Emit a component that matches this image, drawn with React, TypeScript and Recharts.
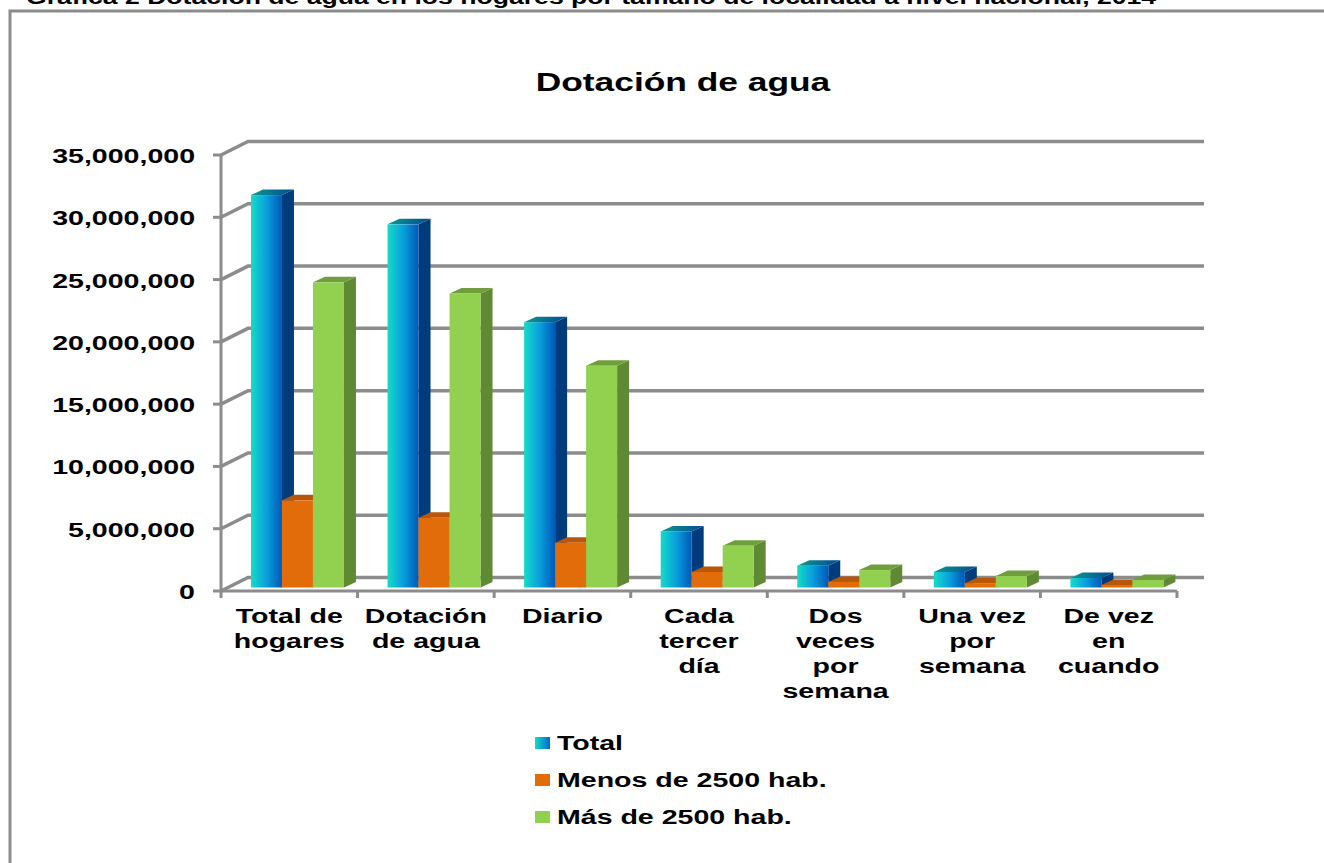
import React from "react";
import { BarChart, Bar, XAxis, YAxis, CartesianGrid, Legend } from "recharts";

const categories = ["Total de hogares", "Dotación de agua", "Diario", "Cada tercer día", "Dos veces por semana", "Una vez por semana", "De vez en cuando"];
const tickLines = [["Total de", "hogares"], ["Dotación", "de agua"], ["Diario"], ["Cada", "tercer", "día"], ["Dos", "veces", "por", "semana"], ["Una vez", "por", "semana"], ["De vez", "en", "cuando"]];
const total = [31500000, 29150000, 21300000, 4500000, 1750000, 1250000, 760000];
const menos = [7000000, 5600000, 3600000, 1250000, 450000, 350000, 200000];
const mas = [24500000, 23600000, 17800000, 3350000, 1400000, 920000, 600000];
const yTicks = [0, 5000000, 10000000, 15000000, 20000000, 25000000, 30000000, 35000000];
const seriesNames = ["Total", "Menos de 2500 hab.", "Más de 2500 hab."];

const data = categories.map((c, i) => ({ c, total: total[i], menos: menos[i], mas: mas[i] }));

const GRAY = "#8c8c8c";
const DX = 27, DY = -13.5;
const BDX = 12, BDY = -5.5;
const LIFT = 3.5;
const SHIFT = 7.7;
const STRETCH = 1.36;
const FONT = "'Liberation Sans', Arial, sans-serif";

const Stretched = ({ x, y, size, anchor = "start", sx = STRETCH, children }: any) => (
  <text transform={`translate(${x},${y}) scale(${sx},1)`} fontFamily={FONT} fontWeight="bold" fontSize={size} textAnchor={anchor} fill="#000">{children}</text>
);

const make3D = (front: string, top: string, side: string) => (p: any) => {
  const { y, width, height } = p;
  const x = p.x + SHIFT;
  const b = y + height;
  const t = Math.min(y, b - 1);
  const r = x + width;
  return (
    <g transform={`translate(0,${-LIFT})`}>
      <polygon points={`${r},${t} ${r + BDX},${t + BDY} ${r + BDX},${b + BDY} ${r},${b}`} fill={side} />
      <polygon points={`${x},${t} ${x + BDX},${t + BDY} ${r + BDX},${t + BDY} ${r},${t}`} fill={top} />
      <rect x={x} y={t} width={width} height={b - t} fill={front} />
    </g>
  );
};

const shapeTotal = make3D("url(#gTotal)", "url(#gTotalTop)", "#003b7c");
const shapeMenos = make3D("#e36c0a", "#b85708", "#b85708");
const shapeMas = make3D("#92d050", "#6f9f3c", "#5f8a33");

const GridLine = (p: any) => {
  const { x1, x2, y1 } = p;
  return <polyline points={`${x1},${y1} ${x1 + DX},${y1 + DY} ${x2 + DX},${y1 + DY}`} fill="none" stroke={GRAY} strokeWidth={3.5} />;
};

const YTick = ({ x, y, payload }: any) => (
  <g>
    <line x1={x - 8} x2={x + 1} y1={y} y2={y} stroke={GRAY} strokeWidth={3} />
    <Stretched x={x - 26} y={y + 8} size={21} anchor="end">{payload.value.toLocaleString("en-US")}</Stretched>
  </g>
);

const XTick = ({ x, y, index, width, visibleTicksCount }: any) => {
  const n = visibleTicksCount || categories.length;
  const w = width / n;
  const left = x - w / 2;
  return (
    <g>
      <line x1={left} x2={left} y1={y} y2={y + 7} stroke={GRAY} strokeWidth={3} />
      {index === n - 1 && <line x1={left + w} x2={left + w} y1={y} y2={y + 7} stroke={GRAY} strokeWidth={3} />}
      {tickLines[index].map((l, i) => (
        <Stretched key={i} x={x} y={y + 32 + i * 25} size={21} anchor="middle">{l}</Stretched>
      ))}
    </g>
  );
};

const swatches = ["url(#gSwatch)", "#e36c0a", "#92d050"];
const LegendBox = () => (
  <svg width={320} height={110} style={{ display: "block" }}>
    {seriesNames.map((s, i) => (
      <g key={s}>
        <rect x={5} y={7 + i * 37} width={15} height={12} fill={swatches[i]} />
        <Stretched x={27} y={20 + i * 37} size={21}>{s}</Stretched>
      </g>
    ))}
  </svg>
);

export default function App() {
  return (
    <div style={{ position: "absolute", left: 0, top: 0, width: 1324, height: 863, overflow: "hidden", background: "#fff" }}>
      <svg width={1324} height={863} style={{ position: "absolute", left: 0, top: 0 }}>
        <polyline points="10,863 10,11 1324,11" fill="none" stroke={GRAY} strokeWidth={3} />
        <Stretched x={26} y={4} size={20} sx={1.33}>Gráfica 2 Dotación de agua en los hogares por tamaño de localidad a nivel nacional, 2014</Stretched>
        <Stretched x={683} y={91} size={26} anchor="middle">Dotación de agua</Stretched>
      </svg>
      <div style={{ position: "absolute", left: 0, top: 0 }}>
        <BarChart width={1324} height={863} data={data} margin={{ left: 21, top: 155, right: 147, bottom: 102 }} barCategoryGap="16.3%" barGap={0}>
          <defs>
            <linearGradient id="gTotal" x1="0" x2="1" y1="0" y2="0">
              <stop offset="0" stopColor="#14dcc8" />
              <stop offset="0.5" stopColor="#0a9fdc" />
              <stop offset="1" stopColor="#0058b8" />
            </linearGradient>
            <linearGradient id="gSwatch" x1="0" x2="1" y1="0" y2="0">
              <stop offset="0" stopColor="#14dcc8" />
              <stop offset="1" stopColor="#0068d0" />
            </linearGradient>
            <linearGradient id="gTotalTop" x1="0" x2="1" y1="0" y2="0">
              <stop offset="0" stopColor="#0e9a90" />
              <stop offset="1" stopColor="#004a90" />
            </linearGradient>
          </defs>
          <CartesianGrid vertical={false} horizontal={GridLine as any} />
          <XAxis dataKey="c" interval={0} height={60} tickSize={0} tickMargin={0} axisLine={{ stroke: GRAY, strokeWidth: 3 }} tickLine={false} tick={<XTick />} />
          <YAxis width={200} domain={[0, 35000000]} ticks={yTicks} interval={0} tickSize={0} tickMargin={0} axisLine={{ stroke: GRAY, strokeWidth: 3 }} tickLine={false} tick={<YTick />} />
          <Legend content={<LegendBox />} wrapperStyle={{ position: "absolute", left: 530, top: 730, width: 320, bottom: "auto" }} />
          <Bar dataKey="total" name={seriesNames[0]} isAnimationActive={false} shape={shapeTotal} />
          <Bar dataKey="menos" name={seriesNames[1]} isAnimationActive={false} shape={shapeMenos} />
          <Bar dataKey="mas" name={seriesNames[2]} isAnimationActive={false} shape={shapeMas} />
        </BarChart>
      </div>
    </div>
  );
}
